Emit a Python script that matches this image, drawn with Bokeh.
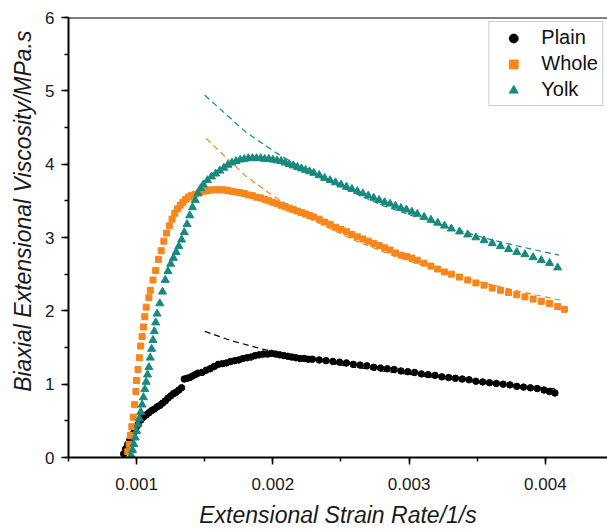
from bokeh.plotting import figure
from bokeh.models import Legend, LegendItem, SingleIntervalTicker, Span, Range1d, PrintfTickFormatter, Title
from bokeh.embed import file_html
from bokeh.resources import INLINE

# ---- data ----
plain_x = [0.000905, 0.00092, 0.000935, 0.00095, 0.000965, 0.00098, 0.000995, 0.00101, 0.00103, 0.00105,
           0.00107, 0.00109, 0.00111, 0.00113, 0.00115, 0.00117, 0.00119, 0.00121, 0.00123, 0.00125,
           0.00127, 0.00129, 0.00131, 0.00133, 0.00135, 0.00137, 0.00139, 0.00141, 0.00143, 0.00145,
           0.00148, 0.00151, 0.00154, 0.00157, 0.0016, 0.00163, 0.00166, 0.00169, 0.00172, 0.00175,
           0.00178, 0.00181, 0.00184, 0.00187, 0.0019, 0.00193, 0.00196, 0.00199, 0.00202, 0.00205,
           0.00208, 0.00211, 0.00214, 0.00217, 0.0022, 0.00223, 0.00226, 0.00229, 0.00234, 0.00239,
           0.00244, 0.00249, 0.00254, 0.00259, 0.00264, 0.00269, 0.00274, 0.00279, 0.00284, 0.00289,
           0.00294, 0.00299, 0.00304, 0.00309, 0.00314, 0.00319, 0.00324, 0.00329, 0.00334, 0.00339,
           0.00344, 0.00349, 0.00354, 0.00359, 0.00364, 0.00369, 0.00374, 0.00379, 0.00384, 0.00389,
           0.00394, 0.00399, 0.00403, 0.00407]
plain_y = [0.05, 0.12, 0.18, 0.24, 0.29, 0.34, 0.40, 0.45, 0.51, 0.55,
           0.58, 0.61, 0.64, 0.66, 0.69, 0.71, 0.74, 0.77, 0.81, 0.84,
           0.87, 0.89, 0.92, 0.95, 1.07, 1.08, 1.09, 1.11, 1.13, 1.15,
           1.16, 1.19, 1.21, 1.24, 1.27, 1.28, 1.29, 1.31, 1.32, 1.33,
           1.35, 1.36, 1.37, 1.39, 1.40, 1.41, 1.41, 1.42, 1.41, 1.40,
           1.39, 1.38, 1.37, 1.36, 1.35, 1.35, 1.34, 1.34, 1.33, 1.32,
           1.31, 1.30, 1.29, 1.27, 1.26, 1.25, 1.23, 1.22, 1.21, 1.20,
           1.18, 1.17, 1.16, 1.14, 1.13, 1.12, 1.10, 1.09, 1.08, 1.07,
           1.06, 1.04, 1.03, 1.02, 1.01, 1.00, 0.99, 0.97, 0.96, 0.95,
           0.94, 0.92, 0.90, 0.88]

whole_x = [0.000935, 0.000945, 0.000955, 0.000965, 0.000975, 0.000985, 0.000995, 0.001, 0.00101, 0.00102,
           0.00103, 0.00104, 0.00105, 0.00106, 0.00107, 0.00109, 0.0011, 0.00112, 0.00114, 0.00116,
           0.00118, 0.0012, 0.00122, 0.00124, 0.00126, 0.00128, 0.0013, 0.00132, 0.00134, 0.00136,
           0.00138, 0.0014, 0.00143, 0.00146, 0.00149, 0.00152, 0.00155, 0.00158, 0.00161, 0.00164,
           0.00167, 0.0017, 0.00173, 0.00176, 0.00179, 0.00182, 0.00185, 0.00188, 0.00191, 0.00194,
           0.00197, 0.002, 0.00203, 0.00206, 0.00209, 0.00212, 0.00215, 0.00218, 0.00221, 0.00224,
           0.00227, 0.0023, 0.00234, 0.00238, 0.00242, 0.00246, 0.0025, 0.00254, 0.00258, 0.00262,
           0.00266, 0.0027, 0.00274, 0.00278, 0.00282, 0.00286, 0.0029, 0.00294, 0.00298, 0.00302,
           0.00306, 0.00311, 0.00316, 0.00321, 0.00326, 0.00331, 0.00337, 0.00343, 0.00349, 0.00355,
           0.00361, 0.00367, 0.00373, 0.00379, 0.00385, 0.00391, 0.00397, 0.00403, 0.00409, 0.00414]
whole_y = [0.08, 0.18, 0.30, 0.42, 0.55, 0.72, 0.90, 1.05, 1.20, 1.36,
           1.52, 1.65, 1.78, 1.92, 2.05, 2.18, 2.28, 2.42, 2.55, 2.70,
           2.82, 2.95, 3.06, 3.16, 3.25, 3.33, 3.39, 3.44, 3.48, 3.52,
           3.55, 3.57, 3.59, 3.61, 3.63, 3.64, 3.65, 3.65, 3.65, 3.65,
           3.64, 3.63, 3.62, 3.61, 3.60, 3.58, 3.57, 3.55, 3.54, 3.52,
           3.50, 3.48, 3.46, 3.44, 3.42, 3.40, 3.38, 3.36, 3.34, 3.32,
           3.30, 3.28, 3.25, 3.21, 3.18, 3.14, 3.11, 3.08, 3.04, 3.01,
           2.98, 2.95, 2.92, 2.89, 2.86, 2.83, 2.79, 2.76, 2.74, 2.72,
           2.69, 2.65, 2.61, 2.57, 2.53, 2.50, 2.46, 2.42, 2.38, 2.35,
           2.31, 2.28, 2.25, 2.22, 2.19, 2.16, 2.13, 2.10, 2.06, 2.02]

yolk_x = [0.00096, 0.00097, 0.00098, 0.00099, 0.001, 0.00101, 0.00102, 0.00103, 0.00104, 0.00105,
          0.00106, 0.00107, 0.00108, 0.00109, 0.0011, 0.00111, 0.00112, 0.00113, 0.00114, 0.00115,
          0.00117, 0.00119, 0.00121, 0.00123, 0.00125, 0.00127, 0.00129, 0.00131, 0.00133, 0.00135,
          0.00137, 0.00139, 0.00141, 0.00143, 0.00145, 0.00147, 0.00149, 0.00152, 0.00155, 0.00158,
          0.00161, 0.00164, 0.00167, 0.0017, 0.00173, 0.00176, 0.00179, 0.00182, 0.00185, 0.00188,
          0.00191, 0.00194, 0.00197, 0.002, 0.00203, 0.00206, 0.00209, 0.00212, 0.00215, 0.00218,
          0.00221, 0.00224, 0.00227, 0.0023, 0.00234, 0.00238, 0.00242, 0.00246, 0.0025, 0.00254,
          0.00258, 0.00262, 0.00266, 0.0027, 0.00274, 0.00278, 0.00282, 0.00286, 0.0029, 0.00294,
          0.00298, 0.00302, 0.00306, 0.00311, 0.00316, 0.00321, 0.00326, 0.00331, 0.00337, 0.00343,
          0.00349, 0.00355, 0.00361, 0.00367, 0.00373, 0.00379, 0.00385, 0.00391, 0.00397, 0.00403,
          0.00409]
yolk_y = [0.03, 0.10, 0.18, 0.27, 0.36, 0.45, 0.53, 0.62, 0.72, 0.82,
          0.93, 1.03, 1.13, 1.23, 1.36, 1.48, 1.60, 1.72, 1.84, 1.96,
          2.10, 2.26, 2.42, 2.54, 2.64, 2.72, 2.80, 2.88, 2.97, 3.07,
          3.18, 3.30, 3.41, 3.51, 3.60, 3.67, 3.72, 3.78, 3.83, 3.87,
          3.91, 3.95, 3.99, 4.02, 4.04, 4.06, 4.07, 4.08, 4.08, 4.08,
          4.08, 4.07, 4.07, 4.06, 4.05, 4.04, 4.02, 4.00, 3.98, 3.96,
          3.94, 3.92, 3.90, 3.88, 3.85, 3.81, 3.78, 3.75, 3.72, 3.69,
          3.66, 3.63, 3.60, 3.57, 3.54, 3.51, 3.48, 3.46, 3.43, 3.40,
          3.38, 3.35, 3.32, 3.28, 3.24, 3.20, 3.16, 3.12, 3.08, 3.04,
          3.00, 2.96, 2.92, 2.88, 2.84, 2.80, 2.77, 2.73, 2.69, 2.65,
          2.59]

# dashed fit lines
plain_fit_x = [0.0015, 0.0017, 0.00193, 0.0022, 0.0025, 0.0028, 0.0031, 0.0034, 0.0037, 0.0041]
plain_fit_y = [1.72, 1.59, 1.475, 1.36, 1.26, 1.18, 1.11, 1.05, 1.00, 0.93]
whole_fit_x = [0.00151, 0.0018, 0.002, 0.0023, 0.0026, 0.0029, 0.0032, 0.0035, 0.0038, 0.00412]
whole_fit_y = [4.35, 3.84, 3.57, 3.23, 2.96, 2.74, 2.56, 2.40, 2.27, 2.14]
yolk_fit_x = [0.0015, 0.0018, 0.00202, 0.0023, 0.00256, 0.0028, 0.00305, 0.0033, 0.0036, 0.0039, 0.0041]
yolk_fit_y = [4.94, 4.44, 4.16, 3.85, 3.64, 3.44, 3.28, 3.13, 2.97, 2.84, 2.76]

x_label = "Extensional Strain Rate/1/s"
y_label = "Biaxial Extensional Viscosity/MPa.s"

BLACK = "#000000"
ORANGE = "#F7861C"
TEAL = "#17897F"
FONT = "Liberation Sans"
TEXT = "#1a1a1a"

p = figure(width=607, height=530, output_backend="svg", toolbar_location=None,
           x_range=Range1d(0.0005, 0.004456), y_range=Range1d(0, 6),
           min_border_left=65, min_border_right=0, min_border_top=17, min_border_bottom=73)
p.outline_line_color = None
p.grid.visible = False
p.background_fill_color = "white"

# dashed fits
p.line(plain_fit_x, plain_fit_y, line_color=BLACK, line_width=1.2, line_dash="6 4")
p.line(whole_fit_x, whole_fit_y, line_color=ORANGE, line_width=1.2, line_dash="6 4")
p.line(yolk_fit_x, yolk_fit_y, line_color=TEAL, line_width=1.2, line_dash="6 4")

r_plain = p.scatter(plain_x, plain_y, marker="circle", size=6.5, fill_color=BLACK, line_color=BLACK)
r_whole = p.scatter(whole_x, whole_y, marker="square", size=6, fill_color=ORANGE, line_color=ORANGE)
r_yolk = p.scatter(yolk_x, yolk_y, marker="triangle", size=8, fill_color=TEAL, line_color=TEAL)

# top border line
p.add_layout(Span(location=6, dimension="width", line_color="black", line_width=2))

for ax in (p.xaxis[0], p.yaxis[0]):
    ax.axis_line_width = 2
    ax.axis_line_color = "black"
    ax.major_tick_in = 0
    ax.major_tick_out = 7
    ax.minor_tick_in = 0
    ax.minor_tick_out = 4
    ax.major_tick_line_width = 1.5
    ax.minor_tick_line_width = 1.5
    ax.major_label_text_font = FONT
    ax.major_label_text_font_size = "17px"
    ax.major_label_text_color = TEXT
    ax.axis_label_text_font = FONT
    ax.axis_label_text_font_size = "23px"
    ax.axis_label_text_font_style = "italic"
    ax.axis_label_text_color = TEXT

p.xaxis[0].ticker = SingleIntervalTicker(interval=0.001, num_minor_ticks=2)
p.xaxis[0].formatter = PrintfTickFormatter(format="%.3f")
p.yaxis[0].ticker = SingleIntervalTicker(interval=1, num_minor_ticks=2)
p.xaxis[0].axis_label = x_label
p.xaxis[0].major_label_standoff = 13
p.xaxis[0].axis_label_standoff = 9
p.yaxis[0].major_label_standoff = 7

ytitle = Title(text=y_label, align="right", offset=13, standoff=14,
               text_font=FONT, text_font_size="23px", text_font_style="italic",
               text_color=TEXT)
p.add_layout(ytitle, "left")

legend = Legend(items=[LegendItem(label="Plain", renderers=[r_plain]),
                       LegendItem(label="Whole", renderers=[r_whole]),
                       LegendItem(label="Yolk", renderers=[r_yolk])],
                location="top_right")
legend.margin = 4
legend.padding = 4
legend.spacing = 3
legend.label_text_font = FONT
legend.label_text_font_size = "20px"
legend.label_text_color = "#111111"
legend.glyph_width = 40
legend.glyph_height = 22
legend.label_height = 22
legend.label_standoff = 8
legend.border_line_color = "#999999"
legend.border_line_width = 1
p.add_layout(legend)

open("out.html", "w").write(file_html(p, INLINE))
